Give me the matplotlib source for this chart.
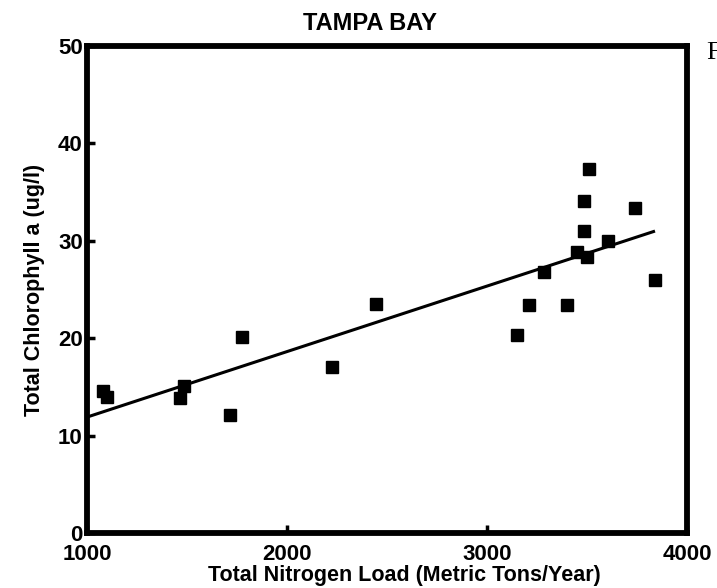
import matplotlib.pyplot as plt

# nitrogen load (metric tons/year) and chlorophyll a (ug/l)
nitrogen = [1080, 1100, 1465, 1485, 1715, 1775, 2225, 2445, 3150, 3210,
            3285, 3400, 3450, 3485, 3485, 3510, 3500, 3605, 3740, 3840]
chlorophyll = [14.6, 14.0, 13.9, 15.1, 12.1, 20.1, 17.0, 23.5, 20.3, 23.4,
               26.8, 23.4, 28.8, 31.0, 34.1, 37.4, 28.3, 30.0, 33.4, 26.0]

# regression line ends
fit_x = [1000, 3840]
fit_y = [11.9, 31.0]

xticks = [1000, 2000, 3000, 4000]
yticks = [0, 10, 20, 30, 40, 50]

plt.rcParams['font.family'] = ['Liberation Sans', 'DejaVu Sans']
plt.rcParams['font.weight'] = 'bold'

fig = plt.figure(figsize=(7.17, 5.88), dpi=100)
ax = fig.add_axes([87/717, 1-533/588, 600/717, 487/588])

ax.plot(fit_x, fit_y, color='black', lw=2.2, solid_capstyle='butt')
ax.plot(nitrogen, chlorophyll, 's', color='black', ms=9, mec='black')

ax.set_xlim(1000, 4000)
ax.set_ylim(0, 50)
ax.set_xticks(xticks)
ax.set_yticks(yticks)
ax.tick_params(direction='in', length=6, width=2.5, labelsize=16)
ax.tick_params(axis='x', pad=8)
ax.tick_params(axis='y', pad=3)
for lab in ax.get_xticklabels() + ax.get_yticklabels():
    lab.set_fontweight('bold')
for s in ax.spines.values():
    s.set_linewidth(4.2)

fig.text(370/717, 1-24/588, "TAMPA BAY", ha='center', va='center',
         fontsize=17, fontweight='bold')
fig.text(404/717, 1-575/588, "Total Nitrogen Load (Metric Tons/Year)",
         ha='center', va='center', fontsize=15.5, fontweight='bold')
fig.text(35/717, 1-290/588, "Total Chlorophyll a (ug/l)", ha='center',
         va='center', rotation=90, fontsize=15.5, fontweight='bold')
fig.text(706/717, 1-53/588, "F", ha='left', va='center', fontsize=19,
         family='Liberation Serif', fontweight='normal')

plt.savefig("out.png", dpi=100)
plt.close()
